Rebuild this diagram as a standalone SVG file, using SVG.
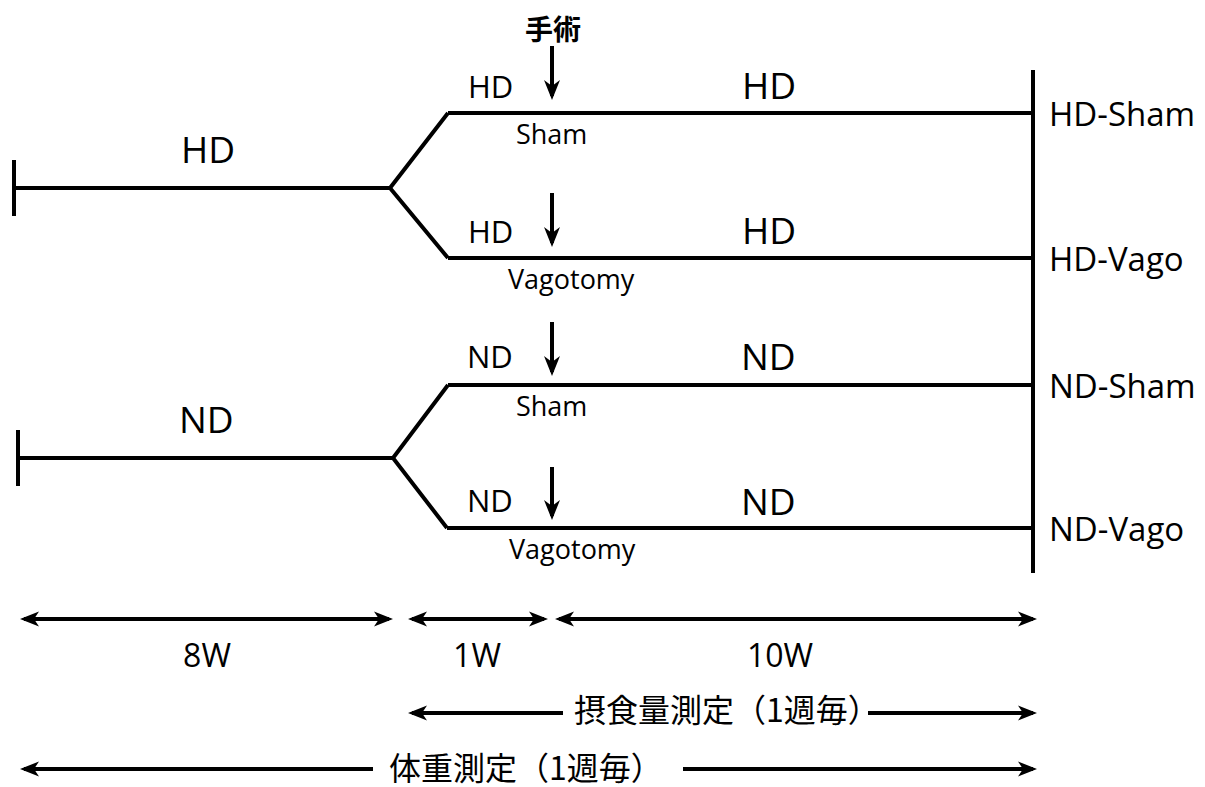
<svg xmlns="http://www.w3.org/2000/svg" width="1205" height="787" viewBox="0 0 1205 787">
<style>
.ln{stroke:#000;stroke-width:4;fill:none;stroke-linecap:butt;stroke-linejoin:miter}
.ar{stroke:#000;stroke-width:4;fill:none}
.t{font-family:"Open Sans","Noto Sans",sans-serif;fill:#000}
.j{font-family:"Noto Sans CJK JP",sans-serif;fill:#000}
</style>
<defs>
<marker id="ah" viewBox="-20 -10 30 20" markerWidth="30" markerHeight="20" refX="0" refY="0" markerUnits="userSpaceOnUse" orient="auto-start-reverse">
<path d="M4,0 L-15,-7.5 L-10,0 L-15,7.5 Z" fill="#000"/>
</marker>
<marker id="av" viewBox="-20 -10 30 20" markerWidth="30" markerHeight="20" refX="0" refY="0" markerUnits="userSpaceOnUse" orient="auto">
<path d="M4,0 L-16,-8 L-10,0 L-16,8 Z" fill="#000"/>
</marker>
</defs>
<rect width="1205" height="787" fill="#fff"/>

<g id="hd-start">
<line class="ln" x1="14" y1="160" x2="14" y2="216"/>
<text class="t" x="181" y="163" font-size="37">HD</text>
</g>
<g id="nd-start">
<line class="ln" x1="18" y1="430" x2="18" y2="486"/>
<text class="t" x="179" y="433" font-size="37">ND</text>
</g>

<g id="surgery">
<text class="j" x="553" y="40" font-size="28" font-weight="bold" text-anchor="middle">手術</text>
</g>

<g id="hd-sham">
<text class="t" x="468" y="98" font-size="31">HD</text>
<text class="t" x="742" y="99" font-size="37">HD</text>
<text class="t" x="516" y="144" font-size="27">Sham</text>
<text class="t" x="1049" y="126" font-size="33">HD-Sham</text>
</g>
<g id="hd-vago">
<text class="t" x="468" y="243" font-size="31">HD</text>
<text class="t" x="742" y="244" font-size="37">HD</text>
<text class="t" x="508" y="289" font-size="27">Vagotomy</text>
<text class="t" x="1049" y="271" font-size="33">HD-Vago</text>
</g>
<g id="nd-sham">
<text class="t" x="467" y="368" font-size="31">ND</text>
<text class="t" x="741" y="370" font-size="37">ND</text>
<text class="t" x="516" y="416" font-size="27">Sham</text>
<text class="t" x="1049" y="398" font-size="33">ND-Sham</text>
</g>
<g id="nd-vago">
<text class="t" x="467" y="512" font-size="31">ND</text>
<text class="t" x="741" y="515" font-size="37">ND</text>
<text class="t" x="509" y="559" font-size="27">Vagotomy</text>
<text class="t" x="1049" y="541" font-size="33">ND-Vago</text>
</g>

<g id="end-bar">
<line class="ln" x1="1033" y1="70" x2="1033" y2="573"/>
</g>

<g id="timeline-labels">
<text class="t" x="207" y="667" font-size="32" text-anchor="middle">8W</text>
<text class="t" x="477" y="667" font-size="32" text-anchor="middle">1W</text>
<text class="t" x="780" y="667" font-size="32" text-anchor="middle">10W</text>
<text class="j" x="574" y="722" font-size="32">摂食量測定（1週毎）</text>
<text class="j" x="389" y="780" font-size="32">体重測定（1週毎）</text>
</g>

<g id="connectors">
<polyline class="ln" points="14,188 390,188"/>
<polyline class="ln" points="448,113 390,188 448,258"/>
<line class="ln" x1="448" y1="113" x2="1033" y2="113"/>
<line class="ln" x1="448" y1="258" x2="1033" y2="258"/>
<polyline class="ln" points="18,458 393,458"/>
<polyline class="ln" points="448,385 393,458 447,528"/>
<line class="ln" x1="448" y1="385" x2="1033" y2="385"/>
<line class="ln" x1="447" y1="528" x2="1033" y2="528"/>

<line class="ar" stroke-width="3.5" x1="552" y1="46" x2="552" y2="96" marker-end="url(#av)"/>
<line class="ar" stroke-width="3.5" x1="552" y1="193" x2="552" y2="243" marker-end="url(#av)"/>
<line class="ar" stroke-width="3.5" x1="552" y1="322" x2="552" y2="372" marker-end="url(#av)"/>
<line class="ar" stroke-width="3.5" x1="552" y1="467" x2="552" y2="516" marker-end="url(#av)"/>

<line class="ar" x1="24" y1="619" x2="389" y2="619" marker-start="url(#ah)" marker-end="url(#ah)"/>
<line class="ar" x1="412" y1="619" x2="544" y2="619" marker-start="url(#ah)" marker-end="url(#ah)"/>
<line class="ar" x1="559" y1="619" x2="1033" y2="619" marker-start="url(#ah)" marker-end="url(#ah)"/>

<line class="ar" x1="412" y1="713" x2="563" y2="713" marker-start="url(#ah)"/>
<line class="ar" x1="868" y1="713" x2="1033" y2="713" marker-end="url(#ah)"/>
<line class="ar" x1="24" y1="769" x2="373" y2="769" marker-start="url(#ah)"/>
<line class="ar" x1="683" y1="769" x2="1033" y2="769" marker-end="url(#ah)"/>
</g>
</svg>
